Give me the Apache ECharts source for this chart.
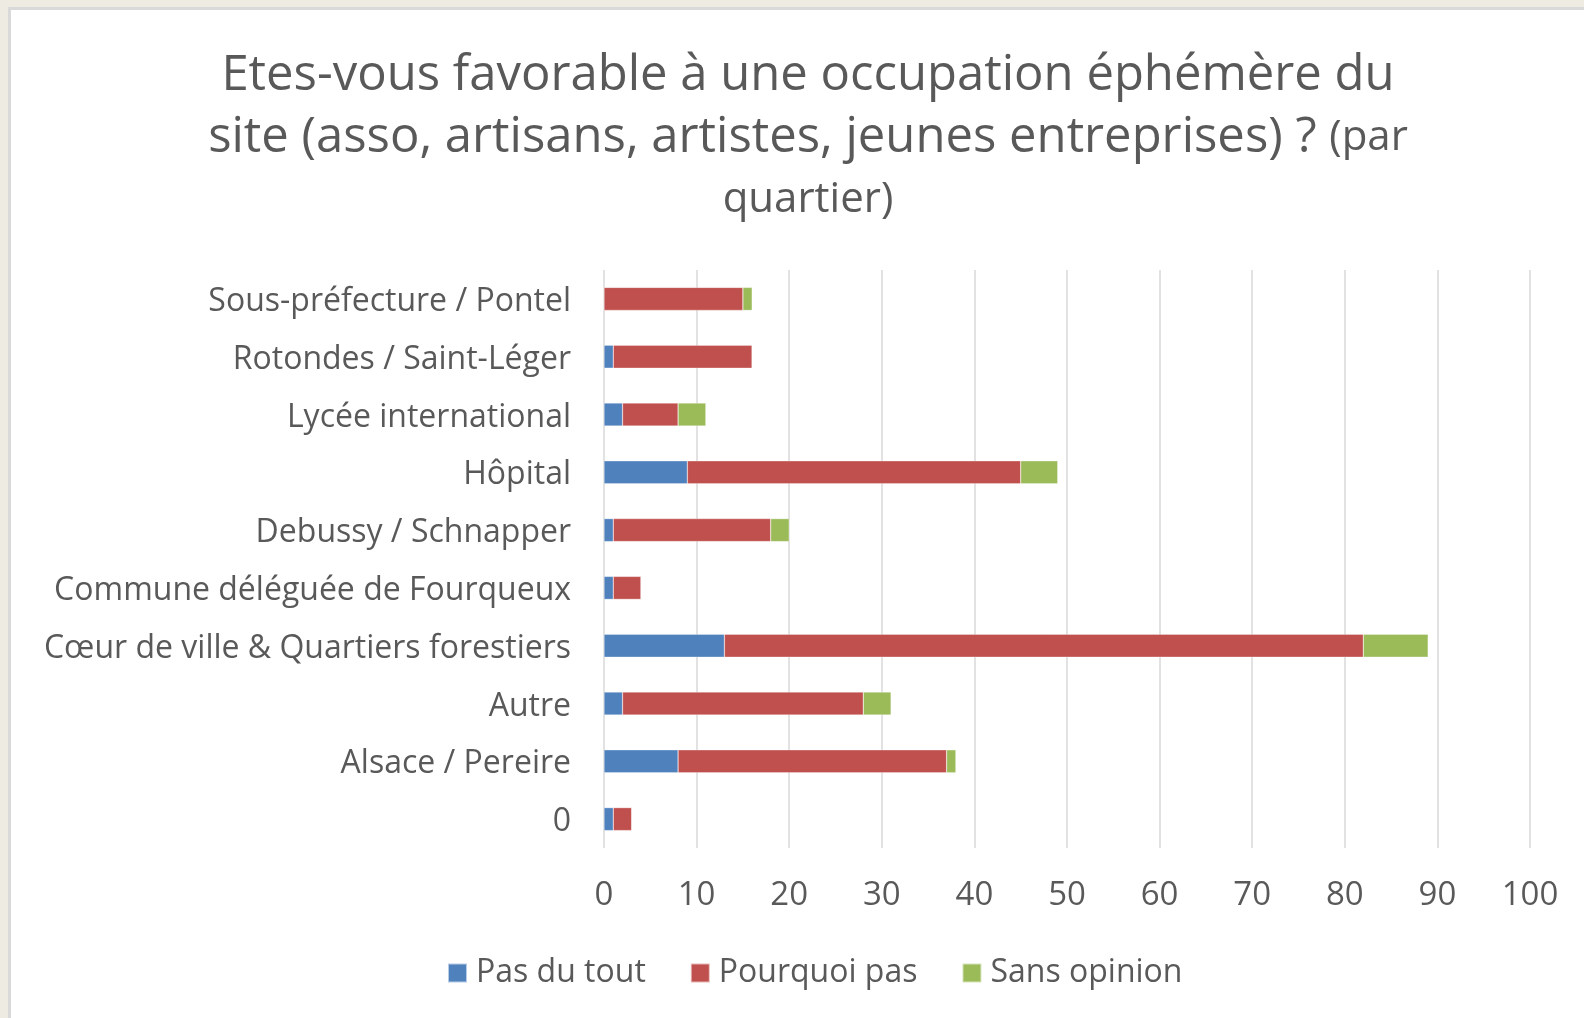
<!DOCTYPE html>
<html>
<head>
<meta charset="utf-8">
<script src="https://cdn.jsdelivr.net/npm/echarts@6/dist/echarts.min.js"></script>
<style>
html,body{margin:0;padding:0;background:#eeebe3;overflow:hidden;}
#frame{position:absolute;left:8px;top:7px;width:1576px;height:1011px;background:#fff;border-left:3px solid #d9d9d9;border-top:3px solid #d9d9d9;box-sizing:border-box;}
#chart{position:absolute;left:0;top:0;width:1584px;height:1018px;}
</style>
</head>
<body>
<div id="frame"></div>
<div id="chart"></div>
<script>
const categories = ['0','Alsace / Pereire','Autre','Cœur de ville & Quartiers forestiers','Commune déléguée de Fourqueux','Debussy / Schnapper','Hôpital','Lycée international','Rotondes / Saint-Léger','Sous-préfecture / Pontel'];
const pasDuTout   = [1, 8, 2, 13, 1, 1, 9, 2, 1, 0];
const pourquoiPas = [2, 29, 26, 69, 3, 17, 36, 6, 15, 15];
const sansOpinion = [0, 1, 3, 7, 0, 2, 4, 3, 0, 1];
const seriesNames = ['Pas du tout','Pourquoi pas','Sans opinion'];
const xTicks = [0,10,20,30,40,50,60,70,80,90,100];

const FONT = 'Open Sans';
const TXT = '#595959';
const chart = echarts.init(document.getElementById('chart'), null, {renderer:'canvas'});
const mk = (name, data, color) => ({
  name, type:'bar', stack:'total', data, barWidth:23,
  itemStyle:{color, borderColor:'rgba(255,255,255,0.6)', borderWidth:0.5},
  emphasis:{disabled:true}
});
chart.setOption({
  backgroundColor:'transparent',
  animation:false,
  textStyle:{fontFamily:FONT},
  title:{
    left:808, top:45, padding:0, textAlign:'center',
    text:'{a|Etes-vous favorable à une occupation éphémère du}\n{a|site (asso, artisans, artistes, jeunes entreprises) ? }{b|(par}\n{b|quartier)}',
    textStyle:{
      fontWeight:'normal',
      rich:{
        a:{fontFamily:FONT,fontSize:49,fontWeight:'normal',color:TXT,lineHeight:62},
        b:{fontFamily:FONT,fontSize:42,fontWeight:'normal',color:TXT,lineHeight:62}
      }
    }
  },
  legend:{
    left:447, top:957, padding:0, itemWidth:19, itemHeight:19, itemGap:44,
    icon:'rect',
    textStyle:{fontFamily:FONT,fontSize:32,color:TXT,padding:[0,0,0,4]},
    data:seriesNames
  },
  grid:{left:604, right:54, top:270, height:578, containLabel:false},
  xAxis:{
    type:'value', min:0, max:100, interval:10,
    axisLine:{show:false}, axisTick:{show:false},
    splitLine:{lineStyle:{color:'#d9d9d9',width:1.5}},
    axisLabel:{fontFamily:FONT,fontSize:33,color:TXT,margin:31,
      formatter:v=>xTicks.includes(v)?String(v):''}
  },
  yAxis:{
    type:'category', data:categories,
    axisLine:{show:false}, axisTick:{show:false},
    axisLabel:{margin:33, formatter:v=>'{c|'+v+'}',
      rich:{c:{fontFamily:FONT,fontSize:32,color:TXT,padding:[6,0,0,0]}}}
  },
  series:[
    mk(seriesNames[0], pasDuTout, '#4f81bd'),
    mk(seriesNames[1], pourquoiPas, '#c0504d'),
    mk(seriesNames[2], sansOpinion, '#9bbb59')
  ]
});
</script>
</body>
</html>
